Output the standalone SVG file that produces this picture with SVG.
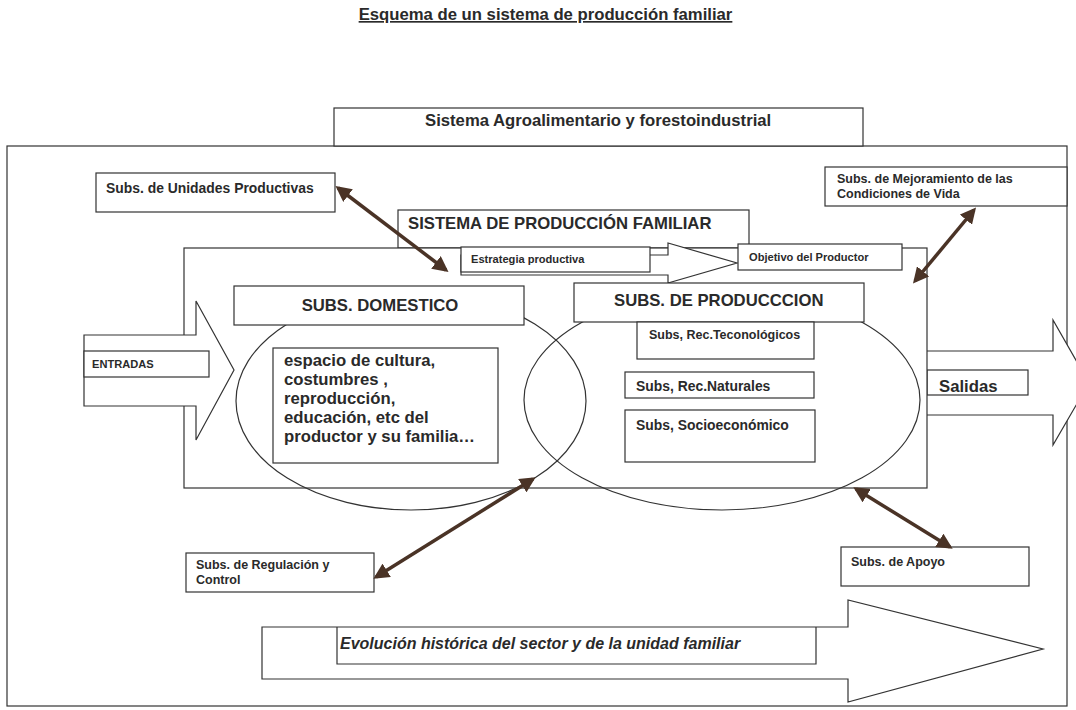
<svg xmlns="http://www.w3.org/2000/svg" width="1076" height="710" viewBox="0 0 1076 710">
<style>
.b{fill:#fff;stroke:#333;stroke-width:1.2}
.n{fill:none;stroke:#333;stroke-width:1.2}
text{font-family:"Liberation Sans",Arial,sans-serif;font-weight:bold;fill:#2a2a2a}
.s8{font-size:11.1px}.s9{font-size:12.5px}.s10{font-size:13.9px}.s12{font-size:16.7px}
.c{stroke:#4a3326;stroke-width:3.5;fill:none;marker-start:url(#h);marker-end:url(#h)}
</style>
<defs>
<marker id="h" viewBox="0 0 10 10" refX="8" refY="5" markerWidth="4.5" markerHeight="4.5" orient="auto-start-reverse" markerUnits="strokeWidth">
<path d="M0,0 L10,5 L0,10 Z" fill="#4a3326"/>
</marker>
</defs>
<rect width="1076" height="710" fill="#fff"/>
<text x="545.5" y="20" text-anchor="middle" class="s12" text-decoration="underline">Esquema de un sistema de producción familiar</text>

<g id="frame"><rect class="b" x="7" y="146" width="1060" height="560"/></g>
<g id="agro"><rect class="b" x="334" y="108" width="529" height="38"/>
<text x="425" y="126" class="s12">Sistema Agroalimentario y forestoindustrial</text></g>

<g id="unidades"><rect class="b" x="96" y="173" width="239" height="39"/>
<text x="106" y="193" class="s10">Subs. de Unidades Productivas</text></g>

<g id="mejoramiento"><rect class="b" x="825" y="167" width="242" height="39"/>
<text x="837" y="183" class="s9">Subs. de Mejoramiento de las</text>
<text x="837" y="198" class="s9">Condiciones de Vida</text></g>

<g id="sistema"><rect class="b" x="398" y="210" width="351" height="38"/>
<text x="408" y="229" class="s12">SISTEMA DE PRODUCCIÓN FAMILIAR</text></g>

<g id="salidas">
<path class="b" d="M927,351 L1053,351 L1053,320 L1089,383 L1053,445 L1053,415 L927,415"/>
<rect class="b" x="927" y="370" width="101" height="25"/>
<text x="939" y="392" class="s12">Salidas</text></g>

<g id="inner"><rect class="b" x="184" y="248" width="743" height="240"/></g>

<g id="entradas">
<path class="b" d="M84,335 L196,335 L196,301 L234,370 L196,440 L196,406 L84,406 Z"/>
<rect class="b" x="84" y="351" width="125" height="26"/>
<text x="92" y="368" class="s8">ENTRADAS</text></g>

<g id="estrategia">
<path class="b" d="M461,255 L668,255 L668,243 L737,263 L668,283 L668,275 L461,275 Z"/>
<rect class="b" x="461" y="247" width="189" height="25"/>
<text x="471" y="263" class="s8">Estrategia productiva</text></g>

<g id="objetivo"><rect class="b" x="738" y="244" width="164" height="26"/>
<text x="749" y="261" class="s8">Objetivo del Productor</text></g>

<g id="ellipses">
<ellipse class="n" cx="411" cy="401" rx="175" ry="109"/>
<ellipse class="n" cx="722" cy="400" rx="198" ry="110"/>
</g>

<g id="domestico"><rect class="b" x="234" y="286" width="290" height="39"/>
<text x="380" y="311" text-anchor="middle" class="s12">SUBS. DOMESTICO</text></g>

<g id="domtext"><rect class="b" x="273" y="348" width="225" height="115"/>
<text class="s12"><tspan x="284" y="366">espacio de cultura,</tspan><tspan x="284" y="385">costumbres ,</tspan><tspan x="284" y="404">reproducción,</tspan><tspan x="284" y="423">educación, etc del</tspan><tspan x="284" y="442">productor y su familia…</tspan></text></g>

<g id="produccion"><rect class="b" x="574" y="283" width="290" height="39"/>
<text x="614" y="306" class="s12">SUBS. DE PRODUCCCION</text></g>

<g id="tecno"><rect class="b" x="637" y="322" width="177" height="37"/>
<text x="649" y="339" class="s9">Subs, Rec.Teconológicos</text></g>
<g id="naturales"><rect class="b" x="625" y="372" width="189" height="26"/>
<text x="636" y="391" class="s10">Subs, Rec.Naturales</text></g>
<g id="socio"><rect class="b" x="625" y="410" width="190" height="52"/>
<text x="636" y="430" class="s10">Subs, Socioeconómico</text></g>

<g id="regulacion"><rect class="b" x="186" y="553" width="188" height="39"/>
<text x="196" y="569" class="s9">Subs. de Regulación y</text>
<text x="196" y="584" class="s9">Control</text></g>

<g id="apoyo"><rect class="b" x="841" y="547" width="188" height="39"/>
<text x="851" y="566" class="s9">Subs. de Apoyo</text></g>

<g id="evolucion">
<path class="b" d="M262,627 L848,627 L848,600 L1043,649 L848,702 L848,679 L262,679 Z"/>
<path class="n" d="M337,627 L337,664 L816,664 L816,627"/>
<text x="340" y="649" class="s12" font-style="italic" font-size="16px" style="font-size:16px">Evolución histórica del sector y de la unidad familiar</text></g>

<g id="connectors">
<line class="c" x1="338" y1="188" x2="446" y2="270"/>
<line class="c" x1="974" y1="210" x2="915" y2="281"/>
<line class="c" x1="376" y1="577" x2="533" y2="479"/>
<line class="c" x1="856" y1="489" x2="950" y2="547"/>
</g>
</svg>
